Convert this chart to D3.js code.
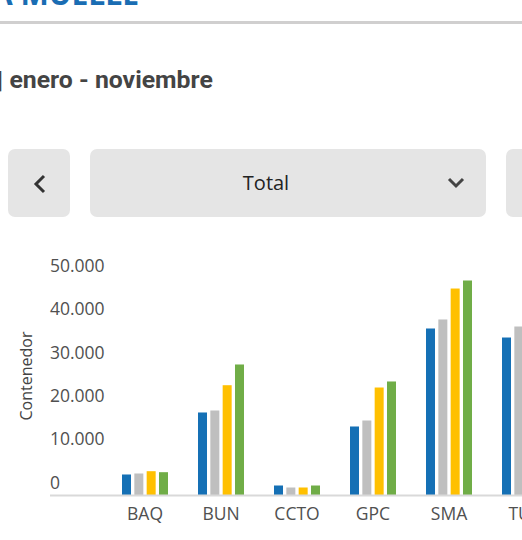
<!DOCTYPE html>
<html>
<head>
<meta charset="utf-8">
<script src="https://cdn.jsdelivr.net/npm/d3@7/dist/d3.min.js"></script>
<style>
  html, body { margin: 0; padding: 0; background: #fff; overflow: hidden; }
  svg { display: block; }
</style>
</head>
<body>
<svg id="chart" width="522" height="540"></svg>
<script>
// ---- data ----
const categories = ["BAQ", "BUN", "CCTO", "GPC", "SMA", "TUR"];
const seriesNames = ["s1", "s2", "s3", "s4"];
const seriesColors = ["#1570b5", "#bfbfbf", "#ffc000", "#70ad47"];
const s1 = [4730, 19030, 2190, 15800, 38400, 36320];
const s2 = [4960, 19490, 1730, 17180, 40480, 38860];
const s3 = [5490, 25320, 1730, 24790, 47620, null];
const s4 = [5260, 30100, 2190, 26180, 49470, null];
const yTicks = [0, 10000, 20000, 30000, 40000, 50000];
const yTitle = "Contenedor";
const pageTitle = "A MUELLE";
const subtitle = "| enero - noviembre";
const selectorLabel = "Total";

const values = [s1, s2, s3, s4];
const svg = d3.select("#chart");

// ---- header ----
svg.append("text")
  .attr("x", -8).attr("y", 5)
  .attr("font-family", "Open Sans").attr("font-weight", 700)
  .attr("font-size", 30).attr("fill", "#1a6db3")
  .text(pageTitle);

svg.append("rect").attr("x", 0).attr("y", 21).attr("width", 522).attr("height", 3).attr("fill", "#d0cfcf");

svg.append("text")
  .attr("x", -3).attr("y", 88)
  .attr("font-family", "Roboto").attr("font-weight", 700)
  .attr("font-size", 24.8).attr("fill", "#444")
  .text(subtitle);

// ---- selector buttons ----
const btnFill = "#e5e5e5";
svg.append("rect").attr("x", 8).attr("y", 149).attr("width", 62).attr("height", 68).attr("rx", 7).attr("fill", btnFill);
svg.append("rect").attr("x", 90).attr("y", 149).attr("width", 396).attr("height", 68).attr("rx", 7).attr("fill", btnFill);
svg.append("rect").attr("x", 506).attr("y", 149).attr("width", 60).attr("height", 68).attr("rx", 7).attr("fill", btnFill);

svg.append("path").attr("d", "M44,176 L36,184 L44,192")
  .attr("fill", "none").attr("stroke", "#333").attr("stroke-width", 3);
svg.append("path").attr("d", "M449,179 L456,186 L463,179")
  .attr("fill", "none").attr("stroke", "#444").attr("stroke-width", 3);
svg.append("text")
  .attr("x", 266).attr("y", 190)
  .attr("text-anchor", "middle")
  .attr("font-family", "Open Sans").attr("font-size", 20).attr("fill", "#222")
  .text(selectorLabel);

// ---- chart ----
const x0 = d3.scaleBand().domain(categories).range([107, 107 + 76 * categories.length])
  .paddingInner(30 / 76).paddingOuter(15 / 76);
const x1 = d3.scaleBand().domain(seriesNames).range([0, x0.bandwidth()]).paddingInner(0.27);
const y = d3.scaleLinear().domain([0, 50000]).range([495, 278.2]);

const g = svg.append("g");
categories.forEach((c, ci) => {
  seriesNames.forEach((s, si) => {
    const v = values[si][ci];
    if (v == null) return;
    g.append("rect")
      .attr("x", x0(c) + x1(s))
      .attr("y", y(v))
      .attr("width", x1.bandwidth())
      .attr("height", y(0) - y(v))
      .attr("fill", seriesColors[si]);
  });
});

// baseline
svg.append("rect").attr("x", 50).attr("y", y(0) - 0.5).attr("width", 480).attr("height", 2).attr("fill", "#d9d9d9");

// y axis labels (left-aligned, no line)
const yAxis = d3.axisLeft(y).tickValues(yTicks).tickSize(0)
  .tickFormat(d => d3.format(",")(d).replace(/,/g, "."));
const ya = svg.append("g").attr("transform", "translate(50,0)").call(yAxis);
ya.select(".domain").remove();
ya.selectAll("text")
  .attr("x", 0).attr("dy", "-0.38em")
  .attr("text-anchor", "start")
  .attr("font-family", "Open Sans").attr("font-size", 17.5).attr("fill", "#505050");

// x axis labels
const xAxis = d3.axisBottom(x0).tickSize(0);
const xa = svg.append("g").attr("transform", `translate(0,${y(0)})`).call(xAxis);
xa.select(".domain").remove();
xa.selectAll("text")
  .attr("y", 13).attr("dy", "0.71em")
  .attr("font-family", "Open Sans").attr("font-size", 17.5).attr("fill", "#505050");

svg.append("text")
  .attr("transform", "translate(32,376) rotate(-90)")
  .attr("text-anchor", "middle")
  .attr("font-family", "Open Sans").attr("font-size", 16).attr("fill", "#444")
  .text(yTitle);
</script>
</body>
</html>
